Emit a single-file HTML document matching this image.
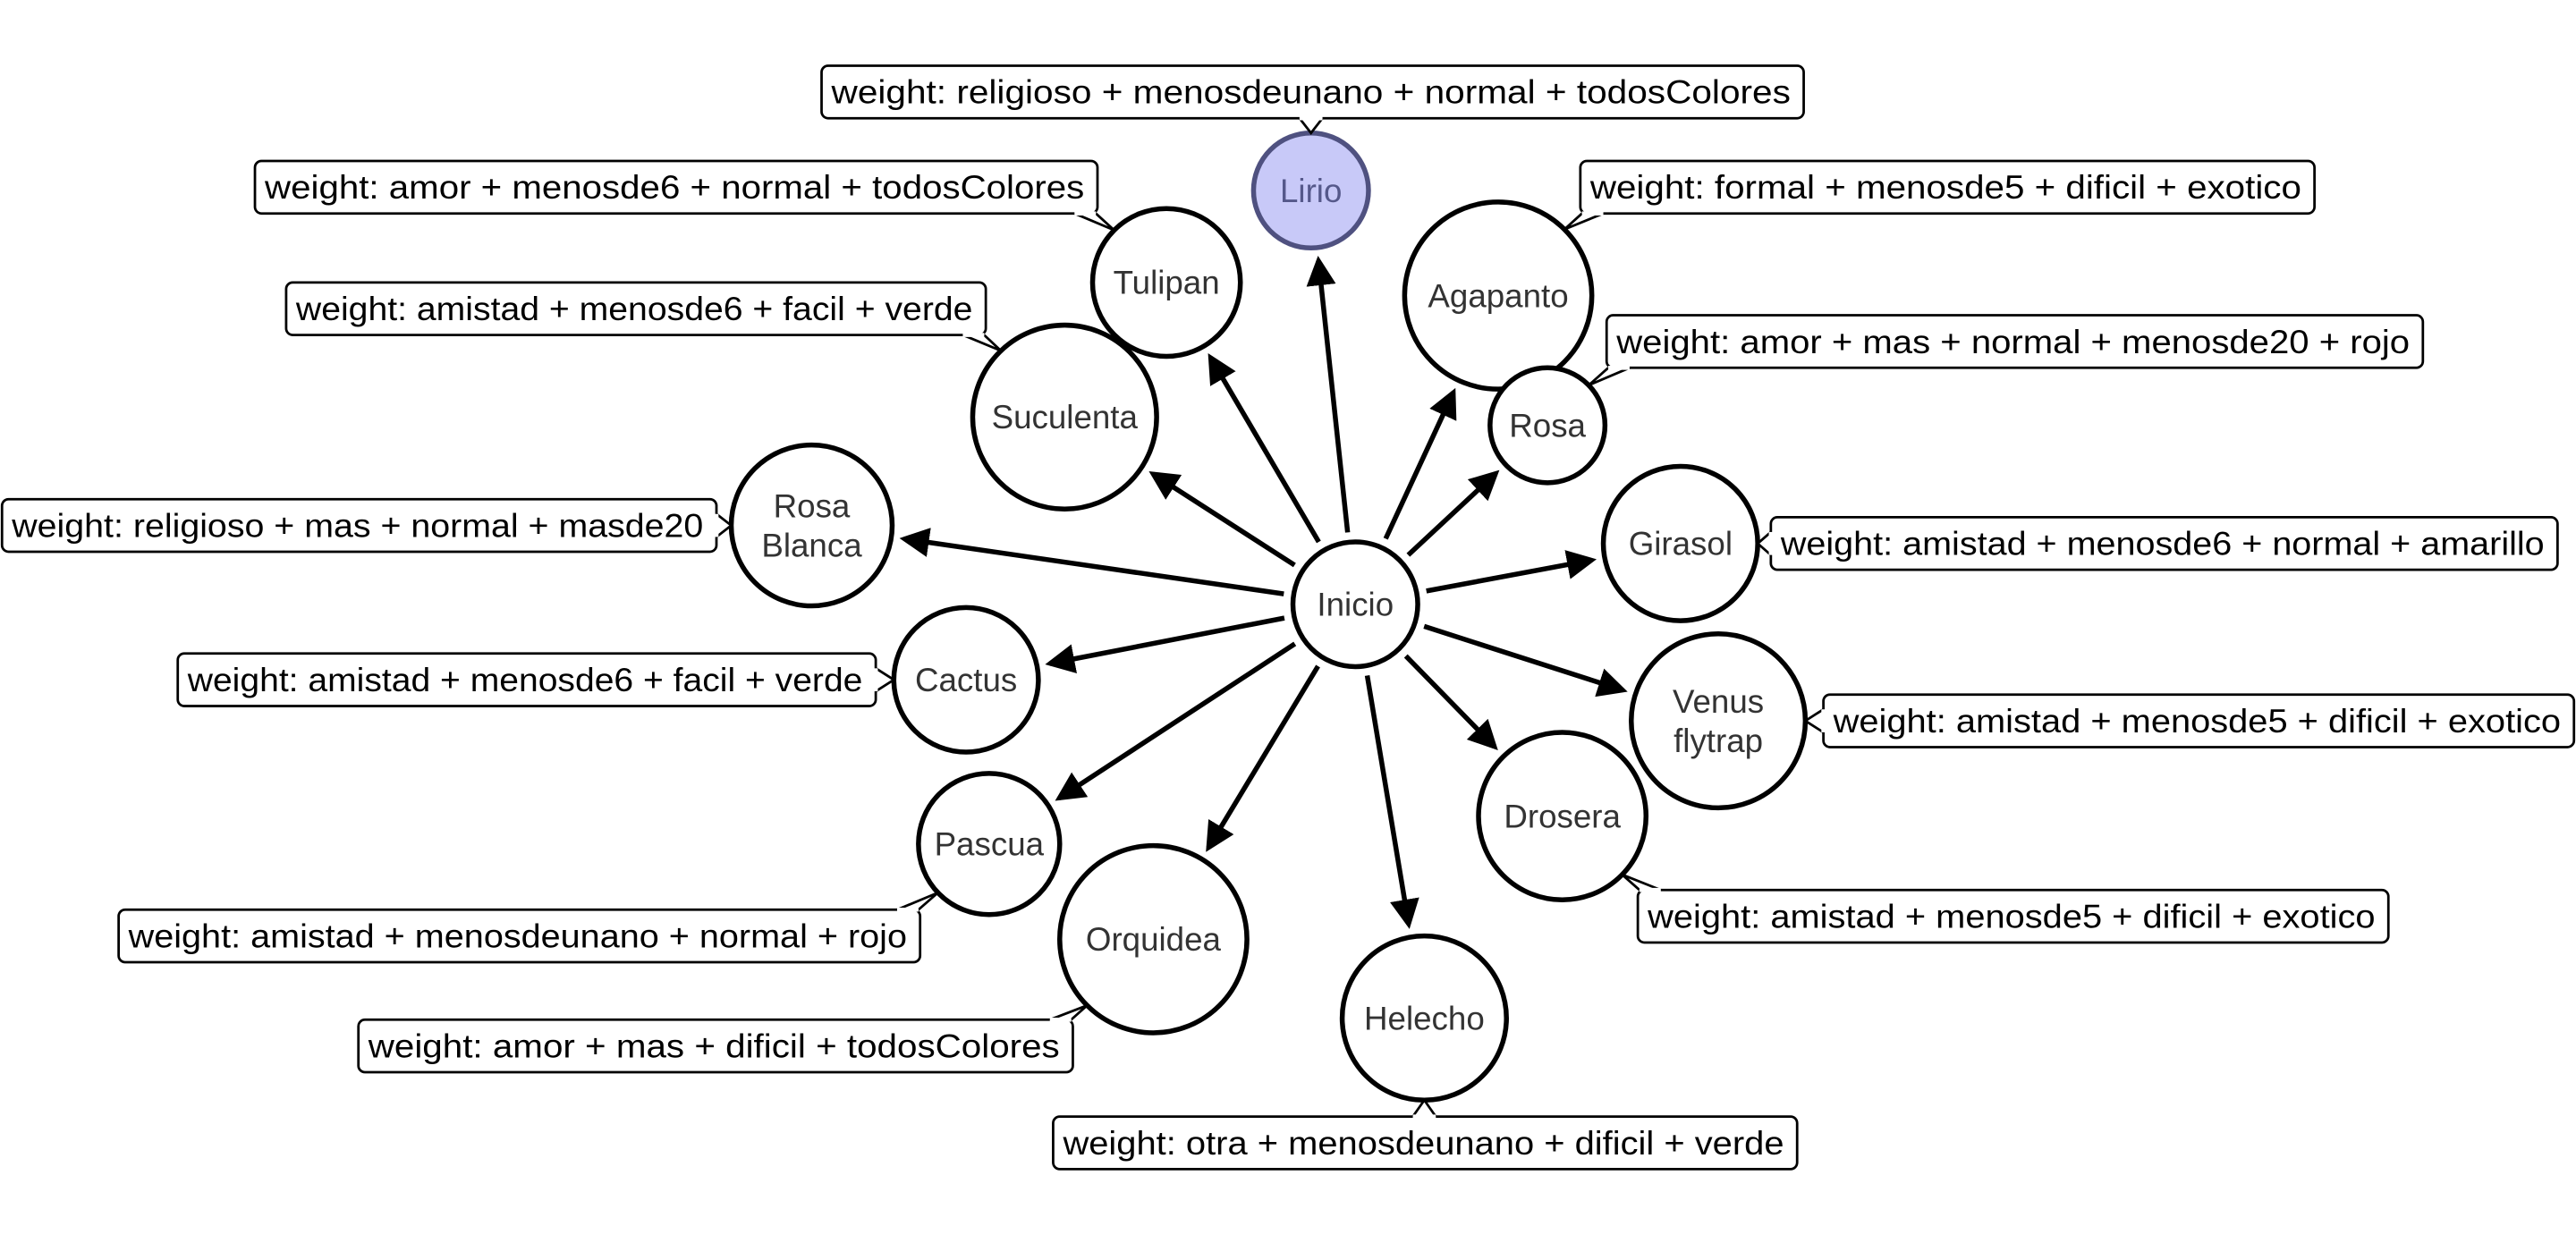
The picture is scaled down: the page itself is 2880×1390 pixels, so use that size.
<!DOCTYPE html>
<html><head><meta charset="utf-8"><style>
html,body{margin:0;padding:0;background:#fff;width:2880px;height:1390px;overflow:hidden}
svg{display:block}
text{font-family:"Liberation Sans",sans-serif}
</style></head><body>
<svg id="g" width="2880" height="1390" viewBox="0 0 1568 757" xmlns="http://www.w3.org/2000/svg">
<defs><marker id="ah" markerWidth="6" markerHeight="6" refX="5" refY="3" orient="auto" markerUnits="strokeWidth"><path d="M0,0 L6,3 L0,6 z" fill="#000"/></marker></defs>
</svg>
<script>
const names=["Lirio","Tulipan","Suculenta","Agapanto","Rosa","Rosa|Blanca","Girasol","Cactus","Venus|flytrap","Pascua","Drosera","Orquidea","Helecho"];
const nodeX=[798,710,648,912,942,494,1023,588,1046,602,951,702,867];
const nodeY=[116,172,254,180,259,320,331,414,439,514,497,572,620];
const nodeR=[35,45,56,57,35,49,47,44,53,43,51,57,50];
const weights=["weight: religioso + menosdeunano + normal + todosColores","weight: amor + menosde6 + normal + todosColores","weight: amistad + menosde6 + facil + verde","weight: formal + menosde5 + dificil + exotico","weight: amor + mas + normal + menosde20 + rojo","weight: religioso + mas + normal + masde20","weight: amistad + menosde6 + normal + amarillo","weight: amistad + menosde6 + facil + verde","weight: amistad + menosde5 + dificil + exotico","weight: amistad + menosdeunano + normal + rojo","weight: amistad + menosde5 + dificil + exotico","weight: amor + mas + dificil + todosColores","weight: otra + menosdeunano + dificil + verde"];
const boxX0=[500,155,174,962,978,1,1078,108,1110,72,997,218,641];
const boxX1=[1098,668,600,1409,1475,436,1557,533,1567,560,1454,653,1094];
const boxY0=[40,98,172,98,192,304,315,398,423,554,542,621,680];
const root={x:825,y:368,r:38,name:"Inicio"};
const NS="http://www.w3.org/2000/svg";
const svg=document.getElementById('g');
function mk(t,a,p){const e=document.createElementNS(NS,t);for(const k in a)e.setAttribute(k,a[k]);(p||svg).appendChild(e);return e;}
const edges=mk('g',{});


names.forEach((n,i)=>{
 const dx=nodeX[i]-root.x,dy=nodeY[i]-root.y,d=Math.hypot(dx,dy),ux=dx/d,uy=dy/d;
 const l=mk('line',{x1:root.x+ux*(root.r+6),y1:root.y+uy*(root.r+6),x2:nodeX[i]-ux*(nodeR[i]+8),y2:nodeY[i]-uy*(nodeR[i]+8),stroke:'#000','stroke-width':3,'marker-end':'url(#ah)'},edges);
 
 
});
function node(x,y,r,label,i){
 const g=mk('g',{});
 
 
 const hi=i===0;
 mk('circle',{cx:x,cy:y,r:r,fill:hi?'#c8c9f8':'#fff',stroke:hi?'#4f5180':'#000','stroke-width':3},g);
 const parts=label.split('|');
 parts.forEach((p,k)=>{
  const t=mk('text',{x:x,y:y+7+(k-(parts.length-1)/2)*24,'text-anchor':'middle','font-size':20,fill:hi?'#55588a':'#333'},g);
  t.textContent=p;
 });
}
names.forEach((n,i)=>node(nodeX[i],nodeY[i],nodeR[i],n,i));
node(root.x,root.y,root.r,root.name,-1);
names.forEach((n,i)=>{
 const g=mk('g',{});
 
 
 const x0=boxX0[i],x1=boxX1[i],y0=boxY0[i],y1=y0+32;
 const cx=Math.max(x0+8,Math.min(x1-8,nodeX[i])),cy=Math.max(y0,Math.min(y1,nodeY[i]));
 // tail
 let px=nodeX[i]-cx,py=nodeY[i]-cy;
 const bx=Math.max(x0,Math.min(x1,nodeX[i])),by=Math.max(y0,Math.min(y1,nodeY[i]));
 const dx=nodeX[i]-bx,dy=nodeY[i]-by,d=Math.hypot(dx,dy);
 const tx=nodeX[i]-dx/d*nodeR[i],ty=nodeY[i]-dy/d*nodeR[i];
 let a,b;
 if(by===y1||by===y0){a=[bx-7,by];b=[bx+7,by];if(bx-7<x0){a=[x0+1,by];b=[x0+14,by];}if(bx+7>x1){a=[x1-14,by];b=[x1-1,by];}}
 else{a=[bx,by-7];b=[bx,by+7];}
 mk('rect',{x:x0,y:y0,width:x1-x0,height:32,rx:4,fill:'#fff',stroke:'#000','stroke-width':1.5},g);
 mk('path',{d:`M${a[0]},${a[1]} L${tx},${ty} L${b[0]},${b[1]}`,fill:'#fff',stroke:'#000','stroke-width':1.5},g);
 mk('path',{d:`M${a[0]},${a[1]} L${b[0]},${b[1]}`,stroke:'#fff','stroke-width':2.5},g);
 const t=mk('text',{x:x0+6,y:y0+23,'font-size':20,fill:'#000',textLength:x1-x0-14,lengthAdjust:'spacingAndGlyphs'},g);
 t.textContent=weights[i];
});
</script>
</body></html>
